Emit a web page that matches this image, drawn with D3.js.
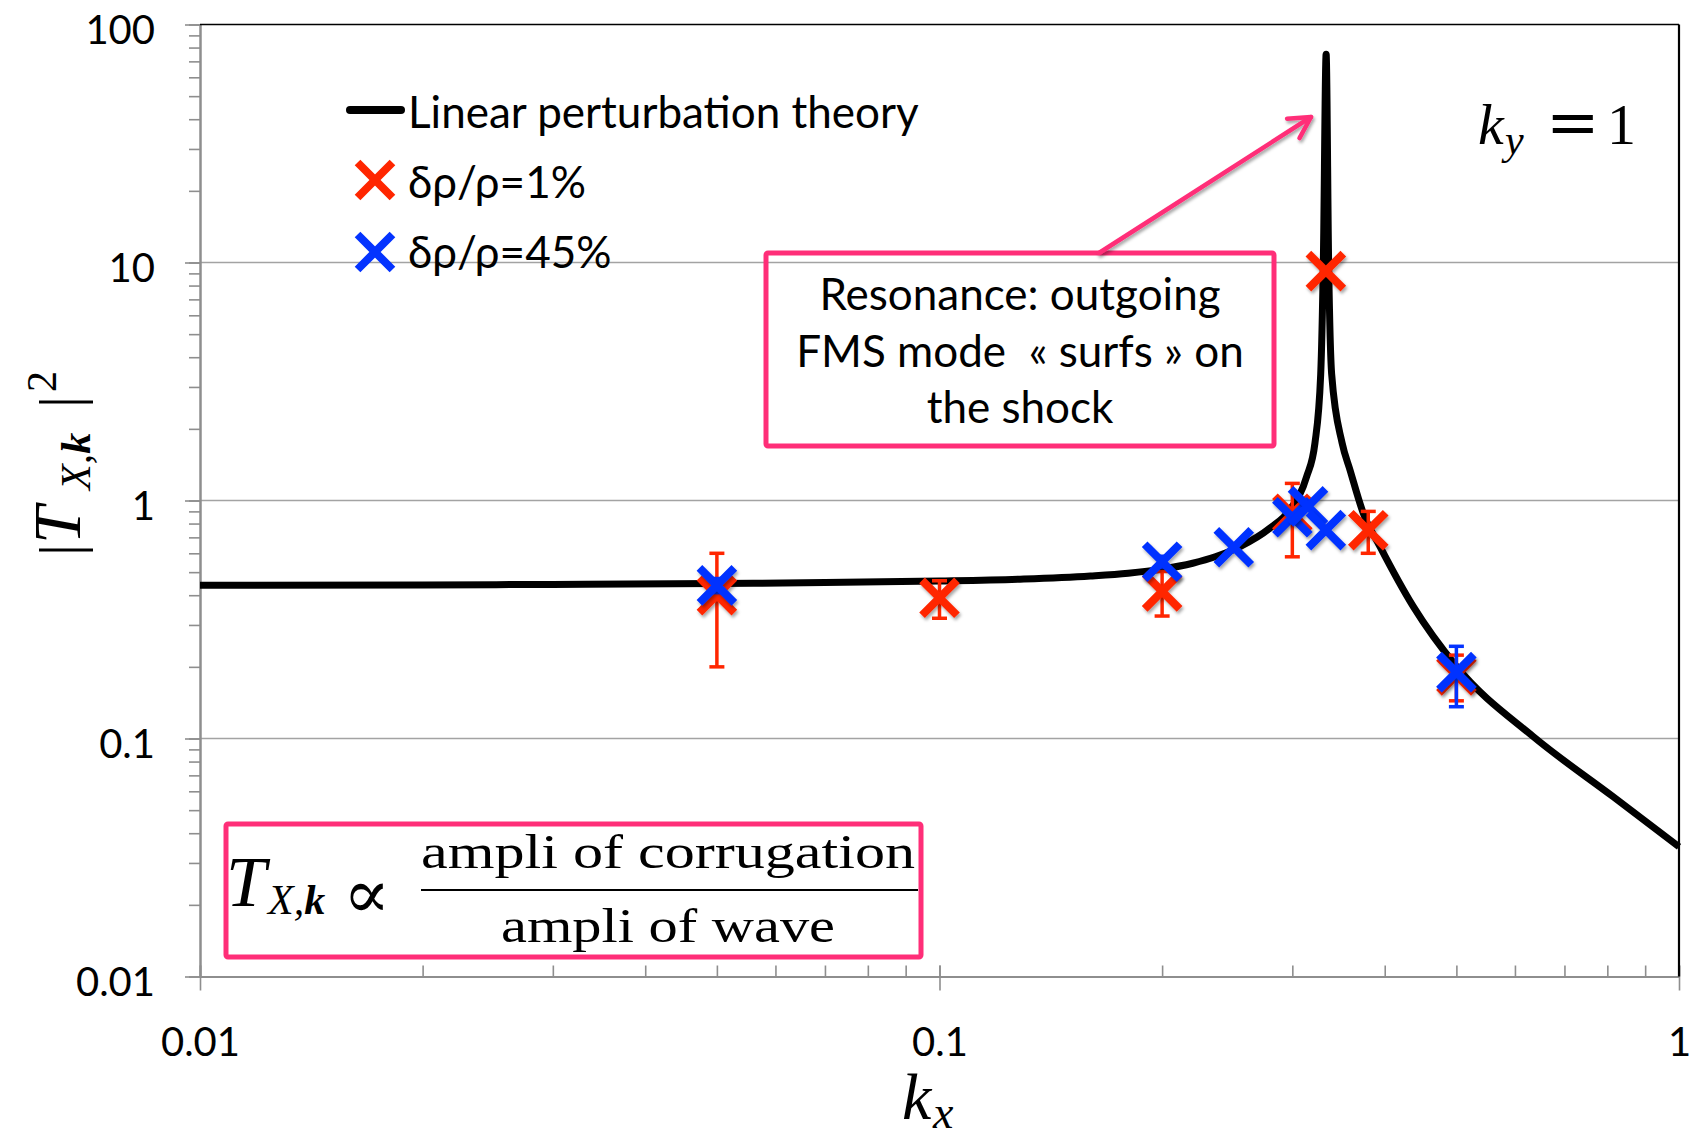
<!DOCTYPE html>
<meta charset="utf-8">
<head>
  <title>Corrugation transfer |T_X,k|^2 versus k_x</title>
  <script src="https://cdn.jsdelivr.net/npm/d3@7"></script>
  <style>
    body {margin: 0; background: #fff;}
    text {font-family: Lato, "Open Sans", sans-serif; fill: #000;}
    .tex {font-family: "Liberation Serif", "DejaVu Serif", serif;}
    .axis path, .axis line {stroke: #8e8e8e;}
  </style>
</head>
<body>
<div id="chart"></div>
<script>
// linear perturbation theory curve
var theory_kx = [0.01, 0.02, 0.03, 0.05, 0.07, 0.1, 0.13, 0.16, 0.18, 0.2, 0.22, 0.236,
                 0.2549, 0.2799, 0.2979, 0.3137, 0.3219, 0.3277, 0.3304, 0.3333, 0.3359,
                 0.3391, 0.3503, 0.3591, 0.3742, 0.3942, 0.4373, 0.5005, 0.6353, 0.8148, 1.0];
var theory_T = [0.44, 0.442, 0.444, 0.448, 0.452, 0.459, 0.468, 0.482, 0.495, 0.515, 0.545, 0.58,
                0.64, 0.766, 0.916, 1.26, 1.744, 3.39, 10, 75, 10,
                3.39, 1.744, 1.34, 0.883, 0.64, 0.358, 0.2002, 0.1018, 0.0569, 0.0351];

// simulations, drho/rho = 1%
var red_kx  = [0.05, 0.1, 0.2, 0.3, 0.333, 0.38, 0.5];
var red_T   = [0.40, 0.39, 0.415, 0.88, 9.2, 0.75, 0.184];
var red_err = [0.2, 0.07, 0.088, 0.3, 0, 0.15, 0.04];

// simulations, drho/rho = 45%
var blue_kx  = [0.05, 0.2, 0.25, 0.3, 0.315, 0.333, 0.5];
var blue_T   = [0.44, 0.553, 0.636, 0.85, 0.945, 0.751, 0.19];
var blue_err = [0.03, 0.03, 0, 0, 0, 0, 0.054];

var x_ticks = [0.01, 0.1, 1];
var x_tick_labels = ["0.01", "0.1", "1"];
var y_ticks = [0.01, 0.1, 1, 10, 100];
var y_tick_labels = ["0.01", "0.1", "1", "10", "100"];
var grid_values = [0.1, 1, 10];

var legend_labels = ["Linear perturbation theory", "\u03b4\u03c1/\u03c1=1%", "\u03b4\u03c1/\u03c1=45%"];
var note_lines = ["Resonance: outgoing", "FMS mode  \u00ab surfs \u00bb on", "the shock"];

var red = "#ff2600", blue = "#0433ff", pink = "#ff2e78";

var width = 1689, height = 1143;
var svg = d3.select("#chart").append("svg")
    .attr("width", width).attr("height", height);

var defs = svg.append("defs");
defs.append("filter").attr("id", "shadow")
    .attr("x", "-50%").attr("y", "-50%").attr("width", "200%").attr("height", "200%")
  .append("feDropShadow")
    .attr("dx", 1.5).attr("dy", 2.5).attr("stdDeviation", 1.5)
    .attr("flood-color", "#000").attr("flood-opacity", 0.35);

// scales
var x = d3.scaleLog().domain([0.01, 1]).range([200, 1679]);
var y = d3.scaleLog().domain([0.01, 100]).range([976.5, 24.5]);

// gridlines
svg.append("g").selectAll("line")
    .data(grid_values).enter().append("line")
    .attr("x1", x(0.01)).attr("x2", x(1))
    .attr("y1", function(d){ return y(d); }).attr("y2", function(d){ return y(d); })
    .style("stroke", "#a3a3a3").style("stroke-width", 1.6);

// y axis: minor ticks then labelled ticks
svg.append("g").attr("class", "axis")
    .attr("transform", "translate(" + x(0.01) + ",0)")
    .call(d3.axisLeft(y).tickValues(y.ticks()).tickSize(11).tickSizeOuter(0).tickFormat(""));
var yMajor = svg.append("g").attr("class", "axis")
    .attr("transform", "translate(" + x(0.01) + ",0)")
    .call(d3.axisLeft(y).tickValues(y_ticks).tickSize(15).tickSizeOuter(0).tickPadding(30)
          .tickFormat(function(d, i){ return y_tick_labels[i]; }));

// x axis: minor ticks point inward, labelled ticks cross
svg.append("g").attr("class", "axis")
    .attr("transform", "translate(0," + y(0.01) + ")")
    .call(d3.axisBottom(x).tickValues(x.ticks()).tickSize(-11).tickSizeOuter(0).tickFormat(""));
var xMajor = svg.append("g").attr("class", "axis")
    .attr("transform", "translate(0," + y(0.01) + ")")
    .call(d3.axisBottom(x).tickValues(x_ticks).tickSize(14).tickSizeOuter(0)
          .tickFormat(function(d, i){ return x_tick_labels[i]; }));

svg.selectAll(".axis path").style("stroke-width", 2);
svg.selectAll(".axis line").style("stroke-width", 1.6);
yMajor.selectAll("text").style("font-size", "40px").style("font-family", "Lato").attr("dy", "0.48em");
xMajor.selectAll("text").style("font-size", "40px").style("font-family", "Lato").attr("y", 79.5).attr("dy", 0);
xMajor.selectAll(".tick line").attr("y1", -11);

// black frame on top and right
svg.append("line").attr("x1", x(0.01)).attr("x2", x(1)).attr("y1", y(100)).attr("y2", y(100))
    .style("stroke", "#000").style("stroke-width", 1.6);
svg.append("line").attr("x1", x(1)).attr("x2", x(1)).attr("y1", y(100)).attr("y2", y(0.01))
    .style("stroke", "#000").style("stroke-width", 2.2);

// theory curve
var theory = theory_kx.map(function(d, i){ return {kx: d, T: theory_T[i]}; });
var line = d3.line()
    .x(function(d){ return x(d.kx); })
    .y(function(d){ return y(d.T); })
    .curve(d3.curveMonotoneX);
svg.append("path").datum(theory)
    .attr("d", line)
    .style("fill", "none").style("stroke", "#000")
    .style("stroke-width", 7).style("stroke-linejoin", "round");

// simulation series
var xMark = d3.symbol().type(d3.symbolX).size(797);

function drawSeries(kx, T, err, color) {
    var pts = kx.map(function(d, i){ return {kx: d, T: T[i], e: err[i]}; });
    var g = svg.append("g");
    var bars = g.selectAll(".bar").data(pts.filter(function(d){ return d.e > 0; }))
        .enter().append("g").attr("class", "bar");
    bars.append("line")
        .attr("x1", function(d){ return x(d.kx); }).attr("x2", function(d){ return x(d.kx); })
        .attr("y1", function(d){ return y(d.T + d.e); }).attr("y2", function(d){ return y(d.T - d.e); });
    bars.append("line")
        .attr("x1", function(d){ return x(d.kx) - 7.5; }).attr("x2", function(d){ return x(d.kx) + 7.5; })
        .attr("y1", function(d){ return y(d.T + d.e); }).attr("y2", function(d){ return y(d.T + d.e); });
    bars.append("line")
        .attr("x1", function(d){ return x(d.kx) - 7.5; }).attr("x2", function(d){ return x(d.kx) + 7.5; })
        .attr("y1", function(d){ return y(d.T - d.e); }).attr("y2", function(d){ return y(d.T - d.e); });
    bars.selectAll("line").style("stroke", color).style("stroke-width", 3.5);

    g.selectAll(".mark").data(pts).enter().append("path")
        .attr("class", "mark")
        .attr("d", xMark)
        .attr("transform", function(d){ return "translate(" + x(d.kx) + "," + y(d.T) + ")"; })
        .attr("filter", "url(#shadow)")
        .style("fill", "none").style("stroke", color).style("stroke-width", 8);
}
drawSeries(red_kx, red_T, red_err, red);
drawSeries(blue_kx, blue_T, blue_err, blue);

// legend
var legend = svg.append("g");
legend.append("line").attr("x1", 350).attr("x2", 401).attr("y1", 110).attr("y2", 110)
    .style("stroke", "#000").style("stroke-width", 8).style("stroke-linecap", "round");
[red, blue].forEach(function(c, i){
    legend.append("path").attr("d", xMark)
        .attr("transform", "translate(375," + (180 + i * 72) + ")")
        .style("fill", "none").style("stroke", c).style("stroke-width", 8);
});
legend.selectAll("text").data(legend_labels).enter().append("text")
    .attr("x", 408).attr("y", function(d, i){ return [128, 198, 268][i]; })
    .style("font-size", "44px")
    .text(function(d){ return d; });

// ky = 1
var ky = svg.append("text").attr("class", "tex").attr("y", 144).style("font-size", "58px");
ky.append("tspan").attr("x", 1478).style("font-style", "italic").text("k");
ky.append("tspan").attr("x", 1505).attr("dy", 10).style("font-style", "italic").style("font-size", "42px").text("y");
ky.append("tspan").attr("x", 1546).attr("dy", -10)
    .style("font-family", "DejaVu Serif").style("font-size", "64px").text("=");
ky.append("tspan").attr("x", 1607).text("1");

// resonance note with arrow
svg.append("rect").attr("x", 766).attr("y", 253).attr("width", 508).attr("height", 193)
    .attr("rx", 2)
    .style("fill", "none").style("stroke", pink).style("stroke-width", 5);
svg.append("g").selectAll("text").data(note_lines).enter().append("text")
    .attr("x", 1020).attr("y", function(d, i){ return 310 + i * 56.5; })
    .attr("text-anchor", "middle")
    .style("font-size", "44px").style("white-space", "pre")
    .text(function(d){ return d; });

var arrow = svg.append("g").attr("filter", "url(#shadow)")
    .style("fill", "none").style("stroke", pink).style("stroke-width", 4.5)
    .style("stroke-linecap", "round").style("stroke-linejoin", "round");
var ax0 = 1099, ay0 = 253, ax1 = 1311, ay1 = 117;
var ang = Math.atan2(ay1 - ay0, ax1 - ax0);
arrow.append("line").attr("x1", ax0).attr("y1", ay0).attr("x2", ax1).attr("y2", ay1);
arrow.append("path").attr("d", d3.line()([
    [ax1 - 24 * Math.cos(ang - 0.5), ay1 - 24 * Math.sin(ang - 0.5)],
    [ax1, ay1],
    [ax1 - 24 * Math.cos(ang + 0.5), ay1 - 24 * Math.sin(ang + 0.5)]
]));

// definition box
svg.append("rect").attr("x", 226).attr("y", 824).attr("width", 695).attr("height", 133)
    .attr("rx", 2)
    .style("fill", "none").style("stroke", pink).style("stroke-width", 5);
var tdef = svg.append("text").attr("class", "tex").attr("y", 906).style("font-size", "72px");
tdef.append("tspan").attr("x", 226).style("font-style", "italic").text("T");
tdef.append("tspan").attr("x", 268).attr("dy", 8).style("font-size", "42px").style("font-style", "italic").text("X,");
tdef.append("tspan").style("font-size", "42px").style("font-style", "italic").style("font-weight", "bold").text("k");
svg.append("text").attr("x", 343).attr("y", 918)
    .style("font-family", "DejaVu Serif").style("font-size", "70px").text("\u221d");
svg.append("text").attr("class", "tex").attr("x", 668).attr("y", 868).attr("text-anchor", "middle")
    .attr("textLength", 494).attr("lengthAdjust", "spacingAndGlyphs")
    .style("font-size", "48px").text("ampli of corrugation");
svg.append("line").attr("x1", 421).attr("x2", 918).attr("y1", 890).attr("y2", 890)
    .style("stroke", "#000").style("stroke-width", 2);
svg.append("text").attr("class", "tex").attr("x", 668).attr("y", 942).attr("text-anchor", "middle")
    .attr("textLength", 334).attr("lengthAdjust", "spacingAndGlyphs")
    .style("font-size", "48px").text("ampli of wave");

// axis titles
var ytitle = svg.append("text").attr("class", "tex")
    .attr("transform", "translate(80,0) rotate(-90)")
    .style("font-size", "60px");
ytitle.append("tspan").attr("x", -556).text("|");
ytitle.append("tspan").attr("x", -544).style("font-style", "italic").style("font-size", "68px").text("T");
ytitle.append("tspan").attr("x", -490).attr("dy", 10).style("font-size", "42px").style("font-style", "italic").text("X,");
ytitle.append("tspan").style("font-size", "42px").style("font-style", "italic").style("font-weight", "bold").text("k");
ytitle.append("tspan").attr("x", -408).attr("dy", -10).text("|");
ytitle.append("tspan").attr("x", -392).attr("dy", -24).style("font-size", "42px").text("2");

var xtitle = svg.append("text").attr("class", "tex").attr("y", 1119).style("font-size", "66px");
xtitle.append("tspan").attr("x", 902).style("font-style", "italic").text("k");
xtitle.append("tspan").attr("x", 933).attr("dy", 9).style("font-size", "46px").style("font-style", "italic").text("x");
</script>
</body>
